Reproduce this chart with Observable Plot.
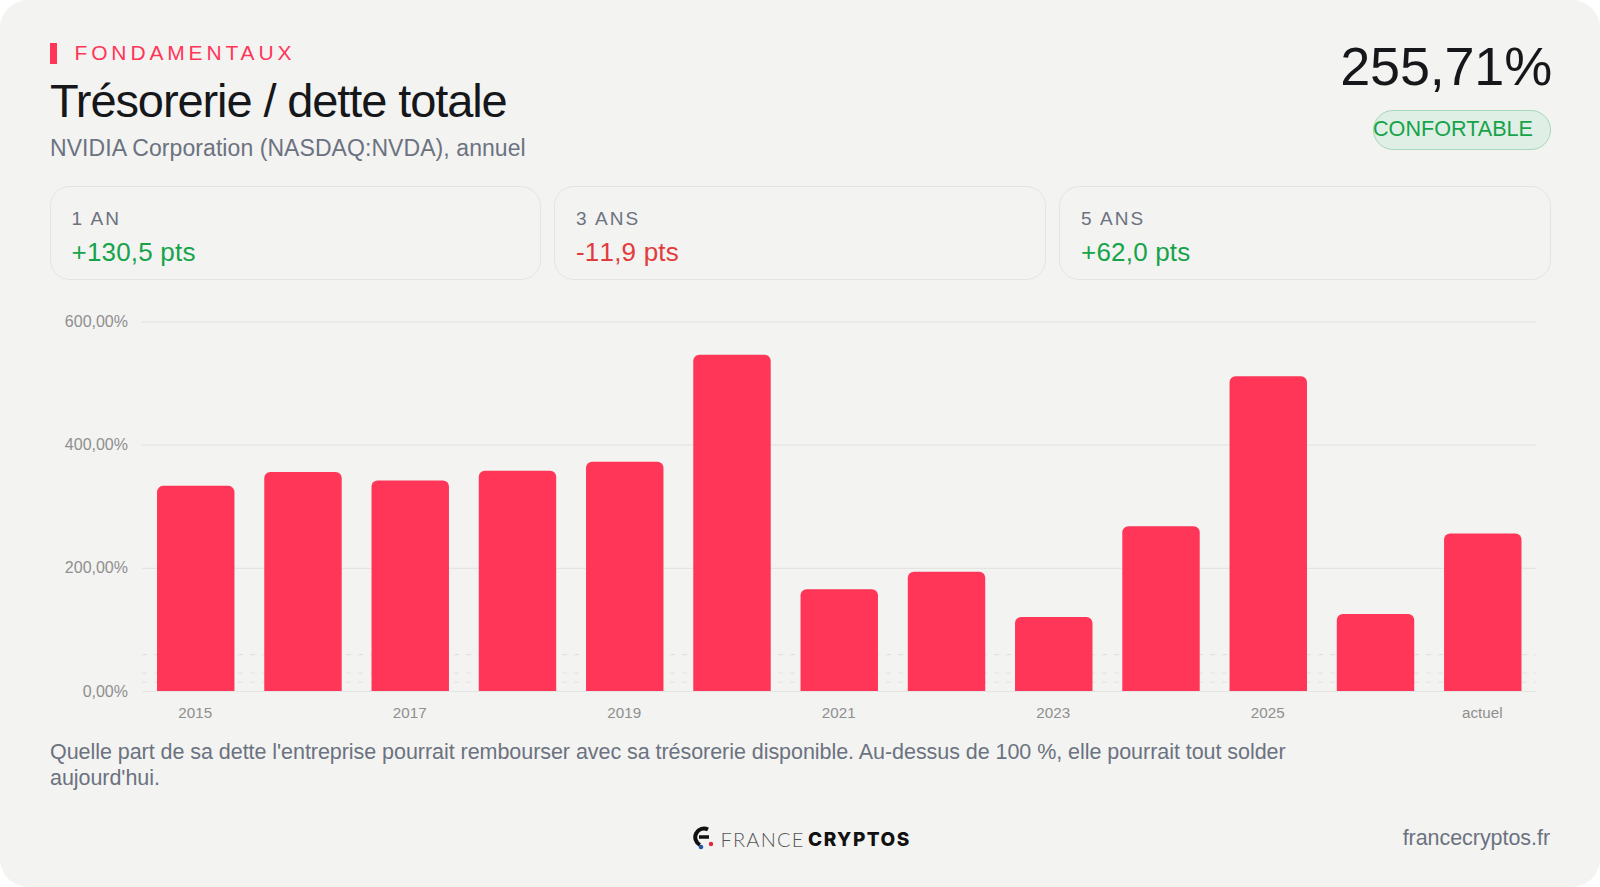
<!DOCTYPE html>
<html lang="fr"><head><meta charset="utf-8">
<script src="https://cdn.jsdelivr.net/npm/d3@7"></script>
<script src="https://cdn.jsdelivr.net/npm/@observablehq/plot@0.6"></script>
<style>
html,body{margin:0;padding:0;background:#fff;width:1600px;height:887px;overflow:hidden;font-family:"Liberation Sans",Arial,sans-serif}
#card{position:absolute;left:0;top:0;width:1600px;height:887px;background:#f3f3f1;border-radius:28px;overflow:hidden}
.a{position:absolute;white-space:nowrap}
.stat{position:absolute;top:186px;width:492px;height:94px;box-sizing:border-box;border:1.5px solid #e4e4e2;border-radius:20px}
.stat .l{position:absolute;left:21px;top:21px;font-size:19px;letter-spacing:2.1px;color:#6b7280;line-height:22px}
.stat .v{position:absolute;left:21px;top:50px;font-size:26px;font-kerning:none;letter-spacing:.2px;line-height:30px}
#chart{position:absolute;left:0;top:300px}
#chart svg{display:block;background:transparent}
</style></head><body>
<div id="card">
<div class="a" style="left:50px;top:43px;width:6.5px;height:21px;background:#ff3658"></div>
<div class="a" id="kicker" style="left:74.5px;top:41px;font-size:21px;letter-spacing:3.85px;color:#ff3658;line-height:24px">FONDAMENTAUX</div>
<div class="a" id="title" style="left:50px;top:74px;font-size:47px;letter-spacing:-1.1px;color:#15171a;line-height:54px">Trésorerie / dette totale</div>
<div class="a" id="sub" style="left:50px;top:134px;font-size:23px;letter-spacing:.07px;color:#6b7280;line-height:28px">NVIDIA Corporation (NASDAQ:NVDA), annuel</div>
<div class="a" id="big" style="right:48px;top:35px;font-size:54px;letter-spacing:-.2px;color:#15171a;line-height:62px">255,71%</div>
<div class="a" style="left:1373px;top:109.5px;width:178px;height:40px;box-sizing:border-box;border:1.5px solid #a5d8b8;border-radius:20px;background:#e0efe5"></div>
<div class="a" style="left:1373px;top:115px;font-size:21.6px;color:#16a34a;line-height:28px">CONFORTABLE</div>
<div class="stat" style="left:49.5px;width:491.5px"><div class="l">1 AN</div><div class="v" style="color:#16a34a">+130,5 pts</div></div>
<div class="stat" style="left:554px"><div class="l">3 ANS</div><div class="v" style="color:#e23b3b">-11,9 pts</div></div>
<div class="stat" style="left:1059px"><div class="l">5 ANS</div><div class="v" style="color:#16a34a">+62,0 pts</div></div>
<div id="chart"></div>
<div class="a" id="note" style="left:50px;top:739px;width:1290px;white-space:normal;font-size:21.5px;letter-spacing:-.05px;color:#6b7280;line-height:26px">Quelle part de sa dette l'entreprise pourrait rembourser avec sa trésorerie disponible. Au-dessus de 100 %, elle pourrait tout solder aujourd'hui.</div>
<div class="a" style="left:720.5px;top:828px;font-family:Lato,'Liberation Sans',sans-serif;font-weight:300;font-size:20px;letter-spacing:1.2px;line-height:23px;color:#555">FRANCE</div>
<div class="a" style="left:808px;top:828px;font-family:Inter,'Liberation Sans',sans-serif;font-weight:800;font-size:19px;letter-spacing:1.5px;line-height:23px;color:#111">CRYPTOS</div>
<svg class="a" style="left:693px;top:826px" width="24" height="24" viewBox="0 0 24 24"><path d="M15 3.5A8.5 8.5 0 1 0 7 19" fill="none" stroke="#111" stroke-width="4"/><path d="M6 11h10" stroke="#111" stroke-width="3.5"/><circle cx="8" cy="21" r="2.3" fill="#2456a8"/><circle cx="18" cy="18" r="2.2" fill="#e5263f"/></svg>
<div class="a" id="site" style="right:50px;top:824px;font-size:21.5px;letter-spacing:-.05px;color:#6b7280;line-height:28px">francecryptos.fr</div>
</div>
<script>
const periods = ["2015","2016","2017","2018","2019","2020","2021","2022","2023","2024","2025","2026","actuel"];
const ratios = [333,355.7,341.8,357.4,372.3,546,165,193.7,120,267.6,511,125.2,255.71];
const yTicks = [0,200,400,600];
const xTicks = ["2015","2017","2019","2021","2023","2025","actuel"];
const thresholds = [15,30,60];
const table = periods.map((p,i)=>({p,v:ratios[i]}));
const fr = d => d3.format(".2f")(d).replace(".",",")+"%";
const plot = Plot.plot({
  width:1600,height:430,marginLeft:142,marginRight:63.5,marginTop:21.4,marginBottom:39,
  style:{background:"transparent",fontFamily:"'Liberation Sans',Arial,sans-serif",overflow:"visible"},
  x:{domain:periods,paddingInner:.278,paddingOuter:.14,round:false,label:null},
  y:{domain:[0,600],label:null},
  marks:[
    Plot.ruleY(yTicks,{stroke:"#e4e4e2",strokeWidth:1.2}),
    Plot.ruleY(thresholds,{stroke:"#e2e2e0",strokeWidth:1.2,strokeDasharray:"5 7"}),
    Plot.barY(table,{x:"p",y:"v",fill:"#ff3658",ry1:6}),
    Plot.axisY({ticks:yTicks,tickSize:0,tickPadding:14.5,tickFormat:fr,fontSize:16,fill:"#8f8f8f",stroke:null,label:null}),
    Plot.axisX({ticks:xTicks,tickSize:0,tickPadding:16,dx:-1,fontSize:15.2,fill:"#8f8f8f",stroke:null,label:null})
  ]
});
document.getElementById("chart").appendChild(plot);
</script>
</body></html>
